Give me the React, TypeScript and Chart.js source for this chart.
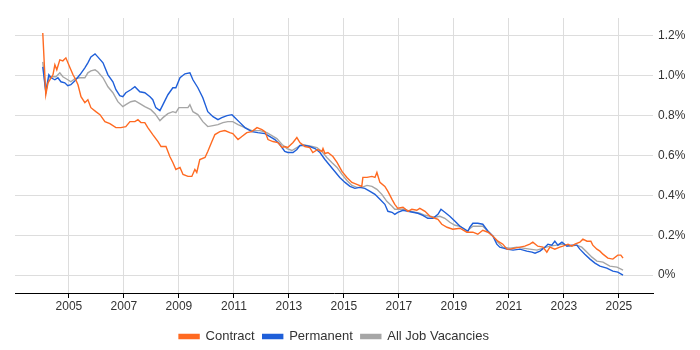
import React, { useEffect, useRef } from "react";
import { Chart, registerables } from "chart.js";

Chart.register(...registerables);

const contractYears = [
  2004.05, 2004.16, 2004.24, 2004.42, 2004.49, 2004.56, 2004.67, 2004.78, 2004.89, 2005.04,
  2005.15, 2005.25, 2005.33, 2005.44, 2005.58, 2005.69, 2005.8, 2005.98, 2006.13, 2006.31,
  2006.49, 2006.71, 2006.89, 2007.07, 2007.22, 2007.4, 2007.51, 2007.62, 2007.76, 2007.87,
  2008.05, 2008.24, 2008.35, 2008.53, 2008.67, 2008.78, 2008.89, 2009.04, 2009.15, 2009.33,
  2009.47, 2009.58, 2009.65, 2009.76, 2009.95, 2010.05, 2010.2, 2010.31, 2010.49, 2010.67,
  2010.85, 2010.96, 2011.15, 2011.29, 2011.47, 2011.65, 2011.84, 2012.02, 2012.13, 2012.24,
  2012.42, 2012.6, 2012.75, 2012.85, 2012.96, 2013.15, 2013.29, 2013.4, 2013.58, 2013.76,
  2013.87, 2014.05, 2014.2, 2014.24, 2014.31, 2014.42, 2014.6, 2014.75, 2014.93, 2015.11,
  2015.29, 2015.47, 2015.65, 2015.69, 2015.84, 2016.02, 2016.13, 2016.2, 2016.31, 2016.49,
  2016.6, 2016.75, 2016.85, 2016.96, 2017.15, 2017.33, 2017.47, 2017.65, 2017.76, 2017.95,
  2018.13, 2018.31, 2018.42, 2018.56, 2018.75, 2018.96, 2019.22, 2019.47, 2019.69, 2019.87,
  2020.05, 2020.24, 2020.42, 2020.6, 2020.78, 2020.93, 2021.04, 2021.22, 2021.4, 2021.58,
  2021.76, 2021.87, 2022.05, 2022.24, 2022.38, 2022.49, 2022.67, 2022.85, 2022.96, 2023.15,
  2023.29, 2023.4, 2023.58, 2023.69, 2023.84, 2023.98, 2024.05, 2024.2, 2024.31, 2024.42,
  2024.6, 2024.78, 2024.96, 2025.07, 2025.15,
];
const contractValues = [
  1.215, 0.905, 0.965, 1.005, 1.055, 1.03, 1.08, 1.075, 1.09, 1.04,
  1.005, 0.98, 0.955, 0.895, 0.865, 0.88, 0.84, 0.82, 0.805, 0.77,
  0.76, 0.74, 0.74, 0.745, 0.77, 0.77, 0.78, 0.765, 0.765, 0.74,
  0.705, 0.67, 0.645, 0.645, 0.595, 0.565, 0.53, 0.54, 0.505, 0.495,
  0.495, 0.53, 0.515, 0.58, 0.59, 0.62, 0.67, 0.705, 0.72, 0.725,
  0.715, 0.71, 0.68, 0.695, 0.715, 0.72, 0.74, 0.73, 0.72, 0.68,
  0.67, 0.665, 0.64, 0.645, 0.64, 0.665, 0.69, 0.665, 0.645, 0.64,
  0.615, 0.63, 0.62, 0.635, 0.61, 0.615, 0.595, 0.565, 0.52, 0.49,
  0.465, 0.455, 0.445, 0.49, 0.49, 0.495, 0.49, 0.515, 0.465, 0.445,
  0.42, 0.38, 0.355, 0.335, 0.34, 0.32, 0.33, 0.325, 0.335, 0.32,
  0.295, 0.285, 0.28, 0.255, 0.24, 0.23, 0.235, 0.215, 0.215, 0.205,
  0.225, 0.215, 0.195, 0.17, 0.155, 0.13, 0.13, 0.135, 0.14, 0.145,
  0.155, 0.165, 0.145, 0.14, 0.115, 0.14, 0.13, 0.14, 0.145, 0.155,
  0.145, 0.155, 0.165, 0.18, 0.17, 0.17, 0.15, 0.13, 0.12, 0.105,
  0.085, 0.08, 0.1, 0.1, 0.085,
];

const permanentYears = [
  2004.05, 2004.16, 2004.27, 2004.35, 2004.49, 2004.6, 2004.71, 2004.85, 2004.96, 2005.07,
  2005.22, 2005.4, 2005.58, 2005.69, 2005.8, 2005.95, 2006.05, 2006.24, 2006.42, 2006.6,
  2006.71, 2006.85, 2006.96, 2007.07, 2007.25, 2007.4, 2007.58, 2007.76, 2007.95, 2008.05,
  2008.16, 2008.31, 2008.42, 2008.6, 2008.78, 2008.89, 2009.04, 2009.22, 2009.4, 2009.51,
  2009.69, 2009.87, 2010.05, 2010.24, 2010.42, 2010.56, 2010.75, 2010.93, 2011.04, 2011.22,
  2011.4, 2011.65, 2011.87, 2012.13, 2012.31, 2012.49, 2012.67, 2012.85, 2012.96, 2013.15,
  2013.29, 2013.4, 2013.58, 2013.76, 2013.95, 2014.13, 2014.31, 2014.49, 2014.67, 2014.85,
  2015.04, 2015.22, 2015.4, 2015.58, 2015.76, 2015.95, 2016.13, 2016.31, 2016.49, 2016.6,
  2016.75, 2016.85, 2016.96, 2017.15, 2017.33, 2017.51, 2017.69, 2017.87, 2018.05, 2018.24,
  2018.42, 2018.53, 2018.67, 2018.85, 2019.04, 2019.22, 2019.4, 2019.51, 2019.58, 2019.69,
  2019.87, 2020.05, 2020.24, 2020.42, 2020.56, 2020.67, 2020.93, 2021.15, 2021.4, 2021.65,
  2021.84, 2021.95, 2022.13, 2022.31, 2022.42, 2022.56, 2022.67, 2022.78, 2022.93, 2023.11,
  2023.29, 2023.47, 2023.58, 2023.76, 2023.95, 2024.13, 2024.31, 2024.56, 2024.78, 2024.96,
  2025.15,
];
const permanentValues = [
  1.045, 0.92, 1.005, 0.99, 0.98, 0.99, 0.97, 0.965, 0.95, 0.955,
  0.975, 1.005, 1.04, 1.065, 1.095, 1.11, 1.095, 1.065, 1.005, 0.97,
  0.93, 0.9, 0.895, 0.915, 0.93, 0.945, 0.92, 0.915, 0.895, 0.88,
  0.84, 0.825, 0.855, 0.905, 0.94, 0.94, 0.99, 1.01, 1.015, 0.98,
  0.94, 0.89, 0.82, 0.795, 0.78, 0.79, 0.8, 0.805, 0.79, 0.765,
  0.74, 0.72, 0.715, 0.71, 0.695, 0.68, 0.655, 0.62, 0.615, 0.615,
  0.63, 0.65, 0.65, 0.645, 0.635, 0.615, 0.58, 0.55, 0.52, 0.49,
  0.465, 0.445, 0.435, 0.44, 0.435, 0.42, 0.405, 0.38, 0.355, 0.32,
  0.315, 0.305, 0.315, 0.325, 0.32, 0.315, 0.31, 0.3, 0.285, 0.285,
  0.305, 0.33, 0.315, 0.295, 0.27, 0.245, 0.23, 0.22, 0.24, 0.26,
  0.26, 0.255, 0.22, 0.195, 0.155, 0.14, 0.13, 0.125, 0.13, 0.12,
  0.115, 0.11, 0.12, 0.14, 0.155, 0.15, 0.17, 0.15, 0.165, 0.145,
  0.15, 0.15, 0.13, 0.105, 0.08, 0.06, 0.045, 0.035, 0.02, 0.015,
  0.0,
];

const allYears = [
  2004.05, 2004.16, 2004.27, 2004.42, 2004.53, 2004.67, 2004.78, 2004.96, 2005.07, 2005.22,
  2005.4, 2005.58, 2005.69, 2005.8, 2005.95, 2006.05, 2006.24, 2006.42, 2006.6, 2006.78,
  2006.96, 2007.07, 2007.25, 2007.4, 2007.58, 2007.76, 2007.98, 2008.13, 2008.31, 2008.42,
  2008.6, 2008.78, 2008.89, 2009.0, 2009.15, 2009.33, 2009.4, 2009.51, 2009.69, 2009.87,
  2010.05, 2010.24, 2010.42, 2010.6, 2010.78, 2010.96, 2011.15, 2011.4, 2011.65, 2011.95,
  2012.2, 2012.38, 2012.56, 2012.75, 2012.93, 2013.11, 2013.29, 2013.47, 2013.65, 2013.84,
  2014.02, 2014.2, 2014.38, 2014.56, 2014.75, 2014.93, 2015.11, 2015.29, 2015.47, 2015.65,
  2015.84, 2016.02, 2016.2, 2016.38, 2016.56, 2016.75, 2016.85, 2017.04, 2017.22, 2017.4,
  2017.58, 2017.76, 2017.95, 2018.13, 2018.31, 2018.49, 2018.67, 2018.85, 2019.04, 2019.22,
  2019.47, 2019.69, 2019.87, 2020.05, 2020.24, 2020.42, 2020.6, 2020.78, 2021.04, 2021.29,
  2021.51, 2021.76, 2022.02, 2022.24, 2022.49, 2022.75, 2022.96, 2023.22, 2023.47, 2023.65,
  2023.84, 2024.02, 2024.2, 2024.42, 2024.67, 2024.93, 2025.15,
];
const allValues = [
  1.07, 0.92, 0.99, 0.995, 0.995, 1.015, 0.995, 0.98, 0.97, 0.985,
  0.99, 0.99, 1.015, 1.025, 1.03, 1.02, 0.99, 0.945, 0.915, 0.87,
  0.845, 0.855, 0.87, 0.875, 0.86, 0.845, 0.83, 0.81, 0.775, 0.79,
  0.81, 0.82, 0.815, 0.84, 0.84, 0.84, 0.855, 0.82, 0.805, 0.77,
  0.745, 0.75, 0.755, 0.765, 0.77, 0.77, 0.755, 0.74, 0.725, 0.725,
  0.715, 0.7, 0.685, 0.655, 0.635, 0.625, 0.64, 0.655, 0.65, 0.645,
  0.64, 0.62, 0.59, 0.565, 0.54, 0.505, 0.475, 0.45, 0.44, 0.44,
  0.45, 0.445, 0.43, 0.405, 0.37, 0.345, 0.33, 0.33, 0.33, 0.32,
  0.315, 0.31, 0.3, 0.295, 0.29, 0.295, 0.285, 0.265, 0.25, 0.245,
  0.22, 0.245, 0.245, 0.245, 0.22, 0.195, 0.165, 0.14, 0.135, 0.14,
  0.135, 0.13, 0.125, 0.135, 0.145, 0.15, 0.155, 0.145, 0.15, 0.14,
  0.115, 0.09, 0.07, 0.065, 0.045, 0.04, 0.025,
];

const xTickYears = [2005, 2007, 2009, 2011, 2013, 2015, 2017, 2019, 2021, 2023, 2025];
const yTickValues = [0, 0.2, 0.4, 0.6, 0.8, 1.0, 1.2];

const seriesNames = ["Contract", "Permanent", "All Job Vacancies"];
const seriesColors = ["#ff6a21", "#1f5fd9", "#a6a6a6"];

const FONT = "Arial, 'Liberation Sans', sans-serif";

function toPoints(xs: number[], ys: number[]) {
  return xs.map((x, i) => ({ x, y: ys[i] }));
}

// Centre the legend under the plot area and nudge it down slightly.
const legendPlacement = {
  id: "legendPlacement",
  afterLayout(chart: any) {
    const lg = chart.legend;
    if (!lg) return;
    const area = chart.chartArea;
    lg.left = area.left;
    lg.right = area.right;
    lg.width = area.right - area.left;
    lg.top += 3;
    lg.bottom += 3;
    if (typeof lg.adjustHitBoxes === "function") lg.adjustHitBoxes();
  },
};

export default function App() {
  const ref = useRef<HTMLCanvasElement | null>(null);

  useEffect(() => {
    if (!ref.current) return;
    const pairs = [
      [contractYears, contractValues],
      [permanentYears, permanentValues],
      [allYears, allValues],
    ];
    const chart = new Chart(ref.current, {
      type: "line",
      data: {
        datasets: pairs.map((p, i) => ({
          label: seriesNames[i],
          data: toPoints(p[0], p[1]),
          borderColor: seriesColors[i],
          backgroundColor: seriesColors[i],
          borderWidth: 1.4,
          pointRadius: 0,
          tension: 0,
          fill: false,
        })),
      },
      plugins: [legendPlacement],
      options: {
        animation: false,
        responsive: true,
        maintainAspectRatio: false,
        layout: { padding: { left: 15, right: 0, top: 18, bottom: 0 } },
        plugins: {
          tooltip: { enabled: false },
          legend: {
            position: "bottom",
            labels: {
              boxWidth: 20,
              boxHeight: 4,
              padding: 8,
              color: "#333333",
              font: { family: FONT, size: 13 },
            },
          },
        },
        scales: {
          x: {
            type: "linear",
            min: 2003.04,
            max: 2026.24,
            afterBuildTicks: (scale: any) => {
              scale.ticks = xTickYears.map((v) => ({ value: v }));
            },
            afterFit: (scale: any) => {
              scale.height = 26;
            },
            grid: {
              color: "#dddddd",
              tickColor: "#000000",
              tickLength: 5,
              drawTicks: true,
            },
            border: { display: true, color: "#000000", width: 1 },
            ticks: {
              color: "#333333",
              padding: 1,
              maxRotation: 0,
              autoSkip: false,
              font: { family: FONT, size: 12 },
              callback: (v: any) => String(v),
            },
          },
          y: {
            type: "linear",
            position: "right",
            min: -0.09,
            max: 1.29,
            afterBuildTicks: (scale: any) => {
              scale.ticks = yTickValues.map((v) => ({ value: v }));
            },
            afterFit: (scale: any) => {
              scale.width = 47;
            },
            grid: { color: "#dddddd", drawTicks: false },
            border: { display: false },
            ticks: {
              color: "#333333",
              padding: 5,
              font: { family: FONT, size: 12 },
              callback: (v: any) => (v === 0 ? "0%" : Number(v).toFixed(1) + "%"),
            },
          },
        },
      },
    } as any);
    return () => chart.destroy();
  }, []);

  return (
    <div style={{ position: "fixed", left: 0, top: 0, width: 700, height: 350, background: "#ffffff" }}>
      <canvas ref={ref} />
    </div>
  );
}
